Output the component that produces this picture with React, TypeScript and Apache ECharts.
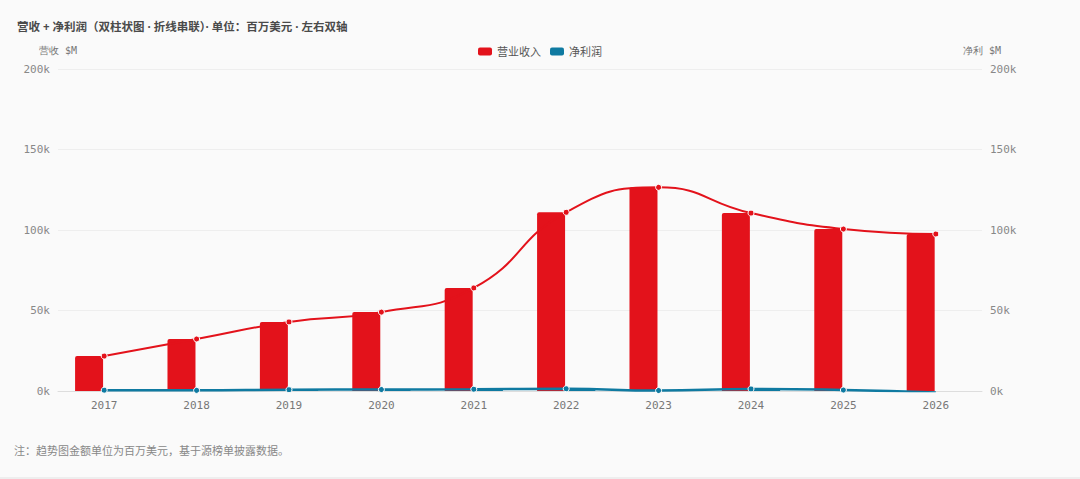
import React, { useEffect, useRef } from "react";
import * as echarts from "echarts";

const years = ["2017", "2018", "2019", "2020", "2021", "2022", "2023", "2024", "2025", "2026"];
const revenue = [21700, 32300, 42900, 49000, 64000, 111000, 126500, 110500, 100600, 97500];
const netProfit = [500, 400, 800, 900, 1100, 1400, 300, 1300, 600, -1000];

const RED = "#e3121b";
const BLUE = "#0f7aa1";
const MONO = "'DejaVu Sans Mono', monospace";
const SANS = "'Noto Sans', 'Noto Sans CJK SC', sans-serif";

export default function App() {
  const ref = useRef<HTMLDivElement>(null);
  useEffect(() => {
    document.body.style.margin = "0";
    document.body.style.background = "#fafafa";
    if (!ref.current) return;
    const chart = echarts.init(ref.current, null, { renderer: "svg" });
    const fmt = (v: number) => `${Math.round(v / 1000)}k`;
    chart.setOption({
      animation: false,
      backgroundColor: "#fafafa",
      title: {
        text: "营收 + 净利润（双柱状图 · 折线串联）· 单位：百万美元 · 左右双轴",
        left: 12,
        top: 16,
        textStyle: { fontFamily: SANS, fontSize: 11.5, fontWeight: "bold", color: "#4a4a4a" },
      },
      legend: {
        top: 41,
        left: "center",
        itemWidth: 14,
        itemHeight: 8,
        icon: "roundRect",
        itemGap: 9,
        textStyle: { fontFamily: SANS, fontSize: 11, color: "#555" },
        data: ["营业收入", "净利润"],
      },
      grid: { left: 58, right: 98, top: 69, bottom: 88 },
      xAxis: {
        type: "category",
        data: years,
        axisLine: { lineStyle: { color: "#ddd" } },
        axisTick: { lineStyle: { color: "#ddd" } },
        axisLabel: { fontFamily: MONO, fontSize: 11, color: "#777", margin: 9 },
      },
      yAxis: [
        {
          type: "value",
          name: "营收 $M",
          min: 0,
          max: 200000,
          interval: 50000,
          nameTextStyle: { fontFamily: MONO, fontSize: 10, color: "#777" },
          nameGap: 14,
          axisLabel: { fontFamily: MONO, fontSize: 11, color: "#888", formatter: fmt },
          splitLine: { lineStyle: { color: "#eee" } },
          axisLine: { show: false },
        },
        {
          type: "value",
          name: "净利 $M",
          min: 0,
          max: 200000,
          interval: 50000,
          position: "right",
          nameTextStyle: { fontFamily: MONO, fontSize: 10, color: "#777" },
          nameGap: 14,
          axisLabel: { fontFamily: MONO, fontSize: 11, color: "#888", formatter: fmt },
          splitLine: { show: false },
          axisLine: { show: false },
        },
      ],
      series: [
        {
          name: "营业收入",
          type: "bar",
          data: revenue,
          barWidth: 28,
          barGap: "8%",
          itemStyle: { color: RED, borderRadius: [2, 2, 0, 0] },
        },
        {
          name: "净利润",
          type: "bar",
          yAxisIndex: 1,
          data: netProfit,
          barWidth: 28,
          itemStyle: { color: BLUE },
        },
        {
          name: "营业收入",
          type: "line",
          data: revenue,
          smooth: 0.5,
          symbol: "circle",
          symbolSize: 6,
          lineStyle: { color: RED, width: 2 },
          itemStyle: { color: RED, borderColor: "#fff", borderWidth: 1 },
          z: 5,
        },
        {
          name: "净利润",
          type: "line",
          yAxisIndex: 1,
          data: netProfit,
          smooth: 0.5,
          symbol: "circle",
          symbolSize: 6,
          lineStyle: { color: BLUE, width: 2.5 },
          itemStyle: { color: BLUE, borderColor: "#fff", borderWidth: 1 },
          z: 5,
        },
      ],
      graphic: [
        {
          type: "text",
          left: 14,
          top: 445,
          style: { text: "注：趋势图金额单位为百万美元，基于源榜单披露数据。", fontFamily: SANS, fontSize: 11, fill: "#888" },
        },
        {
          type: "line",
          shape: { x1: 0, y1: 478, x2: 1080, y2: 478 },
          style: { stroke: "#e2e2e2", lineWidth: 1 },
        },
      ],
    });
    return () => chart.dispose();
  }, []);
  return <div ref={ref} style={{ width: 1080, height: 479 }} />;
}
